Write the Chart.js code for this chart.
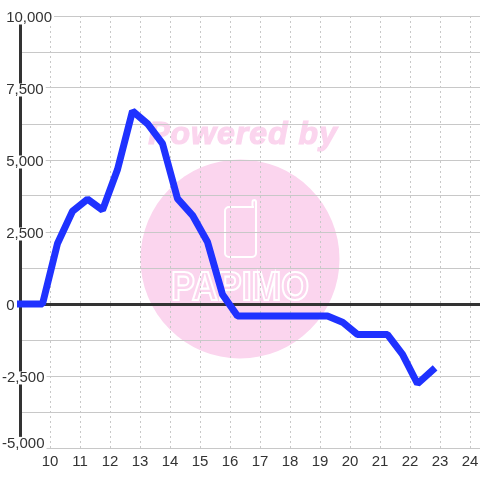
<!DOCTYPE html>
<html><head><meta charset="utf-8">
<style>html,body{margin:0;padding:0;background:#fff}#w{width:480px;height:480px}</style>
<script src="https://cdn.jsdelivr.net/npm/chart.js@4"></script></head>
<body><div id="w"><canvas id="c" width="480" height="480"></canvas></div>
<script>
const hours=[8.75,9.25,9.75,10.25,10.75,11.25,11.75,12.25,12.75,13.25,13.75,14.25,14.75,15.25,15.75,16.25,16.75,17.25,17.75,18.25,18.75,19.25,19.75,20.25,20.75,21.25,21.75,22.25,22.75];
const profit=[0,0,0,2100,3220,3640,3260,4670,6700,6260,5570,3660,3080,2150,330,-420,-420,-420,-420,-420,-420,-420,-630,-1060,-1060,-1060,-1750,-2770,-2300];
const BOTTOM_LABEL_AT=-4770;
const FONT='"Liberation Sans",Arial,sans-serif';
const watermark={id:'watermark',beforeDraw(ch){
  const c=ch.ctx;c.save();
  c.fillStyle='#fbd5ee';
  c.beginPath();c.arc(240,259,99.5,0,Math.PI*2);c.fill();
  c.font='italic bold 32px '+FONT;c.textAlign='center';c.textBaseline='middle';
  c.letterSpacing='1px';
  c.strokeStyle='#fbd5ee';c.lineWidth=1.2;
  c.strokeText('Powered by',243,135);
  c.fillText('Powered by',243,135);
  c.letterSpacing='0px';
  c.strokeStyle='#fff';c.lineWidth=2;
  c.beginPath();
  c.moveTo(254,207);c.lineTo(229,207);c.arcTo(225,207,225,211,4);c.lineTo(225,253);c.arcTo(225,257,229,257,4);
  c.lineTo(252,257);c.arcTo(256,257,256,253,4);c.lineTo(256,202);c.arcTo(256,200,254,200,2);c.arcTo(252.5,200,252.5,202,2);c.lineTo(252.5,207);
  c.stroke();
  c.save();c.translate(240,289);c.scale(0.87,1);
  c.font='bold 41px '+FONT;c.lineWidth=2.2;
  c.strokeText('PAPIMO',0,0);
  c.restore();
  c.restore();
}};
const yLabel=v=>{
  if(v===BOTTOM_LABEL_AT) return '-5,000';
  if(v===-5000||v%2500!==0) return '';
  return (v<0?'':' ')+v.toLocaleString('en-US');
};
new Chart(document.getElementById('c'),{
  type:'line',
  data:{datasets:[{data:hours.map((h,i)=>({x:h,y:profit[i]})),borderColor:'#1f32ff',borderWidth:7,pointRadius:0,tension:0,fill:false,clip:3,borderCapStyle:'square',borderJoinStyle:'bevel'}]},
  plugins:[watermark],
  options:{
    responsive:false,animation:false,devicePixelRatio:1,
    layout:{padding:{top:16,bottom:0,left:0,right:0}},
    plugins:{legend:{display:false},title:{display:false},tooltip:{enabled:false}},
    scales:{
      x:{type:'linear',min:9,max:24.3333,afterFit(s){s.height=32;s.paddingRight=0;s.paddingLeft=0},
        border:{display:false,dash:[2,3]},
        grid:{color:'#c8c8c8',lineWidth:1,drawTicks:false},
        ticks:{stepSize:1,includeBounds:false,autoSkip:false,maxRotation:0,padding:5,color:'#333',font:{family:FONT,size:15},callback:v=>v===9?'':String(v)}},
      y:{min:-5000,max:10000,afterFit(s){s.width=20;s.paddingTop=0;s.paddingBottom=0},
        afterBuildTicks(s){s.ticks.splice(1,0,{value:BOTTOM_LABEL_AT})},
        border:{display:true,color:'#333',width:3},
        grid:{color:c=>c.tick.value===0?'#333':c.tick.value===BOTTOM_LABEL_AT?'rgba(0,0,0,0)':'#c8c8c8',lineWidth:c=>c.tick.value===0?3:1,drawTicks:false},
        ticks:{stepSize:1250,autoSkip:false,mirror:true,padding:-18,labelOffset:2,color:'#333',font:{family:FONT,size:15,lineHeight:'13px'},showLabelBackdrop:true,backdropColor:'#fff',backdropPadding:{x:2,y:0},callback:yLabel}}
    }
  }
});
</script></body></html>
